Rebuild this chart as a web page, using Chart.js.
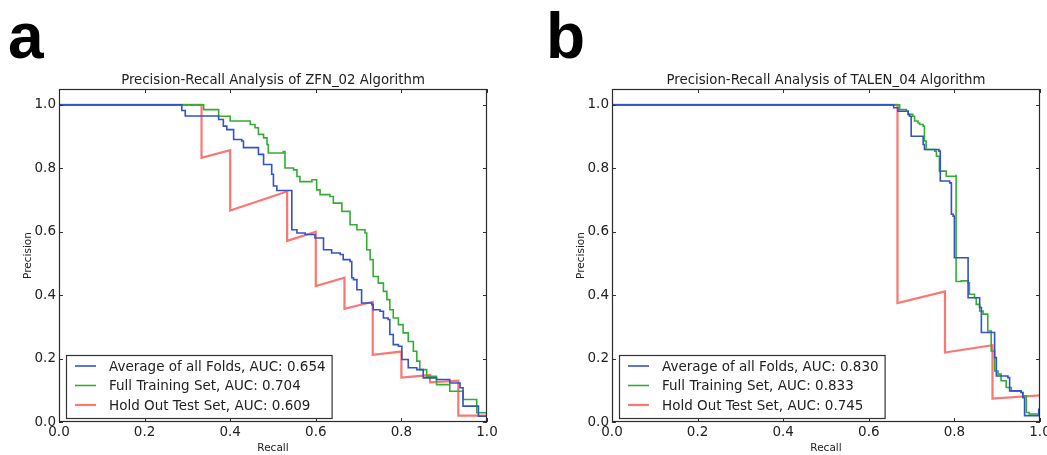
<!DOCTYPE html>
<html><head><meta charset="utf-8">
<script src="https://cdn.jsdelivr.net/npm/chart.js@4.4.0/dist/chart.umd.min.js"></script>
<style>
html,body{margin:0;padding:0;background:#fff;width:1047px;height:455px;overflow:hidden;position:relative;}
.panel{position:absolute;}
.letter{position:absolute;font-family:'Liberation Sans',Arial,sans-serif;font-weight:bold;font-size:64px;line-height:64px;color:#000;}
</style></head><body>
<div class="letter" style="left:8px;top:4px">a</div>
<div class="letter" style="left:546px;top:4px">b</div>
<div class="panel" style="left:0;top:60px;width:520px;height:395px"><canvas id="c1"></canvas></div>
<div class="panel" style="left:540px;top:60px;width:527px;height:395px"><canvas id="c2"></canvas></div>
<script>
// ---------- data: [recall, precision] ----------
const zfnAvg = [[0,1],[0.287,1],[0.287,0.982],[0.295,0.982],[0.295,0.965],[0.373,0.965],[0.373,0.954],[0.384,0.954],[0.384,0.933],[0.392,0.933],[0.392,0.922],[0.408,0.922],[0.408,0.891],[0.427,0.891],[0.427,0.886],[0.431,0.886],[0.431,0.865],[0.466,0.865],[0.466,0.844],[0.478,0.844],[0.478,0.812],[0.497,0.812],[0.497,0.781],[0.501,0.781],[0.501,0.744],[0.509,0.744],[0.509,0.730],[0.544,0.730],[0.544,0.606],[0.556,0.596],[0.575,0.591],[0.598,0.580],[0.614,0.580],[0.618,0.543],[0.637,0.533],[0.657,0.528],[0.664,0.512],[0.680,0.506],[0.684,0.455],[0.688,0.449],[0.696,0.417],[0.707,0.375],[0.731,0.370],[0.734,0.354],[0.750,0.349],[0.758,0.328],[0.769,0.323],[0.773,0.276],[0.781,0.244],[0.793,0.239],[0.801,0.197],[0.816,0.171],[0.836,0.165],[0.851,0.139],[0.882,0.134],[0.913,0.123],[0.937,0.108],[0.944,0.050],[0.976,0.050],[0.980,0.018],[0.999,0.018],[1.0,0.035]];
const zfnFull = [[0,1],[0.338,1],[0.338,0.985],[0.373,0.985],[0.373,0.964],[0.400,0.964],[0.400,0.949],[0.443,0.949],[0.447,0.938],[0.458,0.928],[0.466,0.907],[0.478,0.896],[0.486,0.875],[0.489,0.848],[0.524,0.853],[0.528,0.801],[0.548,0.795],[0.556,0.774],[0.563,0.758],[0.591,0.764],[0.602,0.732],[0.610,0.717],[0.633,0.711],[0.641,0.690],[0.661,0.664],[0.680,0.648],[0.680,0.622],[0.696,0.606],[0.715,0.596],[0.719,0.543],[0.723,0.543],[0.727,0.512],[0.734,0.459],[0.746,0.438],[0.758,0.412],[0.766,0.386],[0.773,0.354],[0.781,0.328],[0.793,0.307],[0.804,0.281],[0.816,0.254],[0.828,0.223],[0.836,0.192],[0.843,0.165],[0.859,0.144],[0.882,0.118],[0.913,0.097],[0.944,0.071],[0.976,0.029],[1.0,0.003]];
const zfnHold = [[0,1],[0.333,1],[0.333,0.833],[0.4,0.857],[0.4,0.667],[0.533,0.727],[0.533,0.571],[0.6,0.6],[0.6,0.429],[0.667,0.455],[0.667,0.357],[0.733,0.379],[0.733,0.212],[0.8,0.222],[0.8,0.14],[0.867,0.148],[0.867,0.125],[0.933,0.13],[0.933,0.02],[1.0,0.02]];

const talenAvg = [[0,1],[0.657,1],[0.658,0.991],[0.668,0.980],[0.688,0.980],[0.692,0.970],[0.695,0.964],[0.699,0.901],[0.723,0.901],[0.727,0.875],[0.730,0.859],[0.758,0.859],[0.764,0.854],[0.767,0.760],[0.789,0.754],[0.793,0.655],[0.797,0.649],[0.800,0.518],[0.828,0.518],[0.832,0.508],[0.832,0.392],[0.855,0.392],[0.859,0.361],[0.863,0.350],[0.863,0.282],[0.894,0.282],[0.894,0.203],[0.898,0.145],[0.925,0.140],[0.929,0.098],[0.956,0.093],[0.960,0.077],[0.964,0.020],[0.991,0.020],[0.997,0.040],[1.0,0.04]];
const talenFull = [[0,1],[0.672,1],[0.672,0.985],[0.688,0.980],[0.692,0.970],[0.703,0.964],[0.707,0.949],[0.715,0.943],[0.719,0.938],[0.727,0.933],[0.730,0.917],[0.730,0.886],[0.734,0.859],[0.754,0.854],[0.758,0.838],[0.764,0.838],[0.765,0.791],[0.781,0.791],[0.781,0.775],[0.804,0.780],[0.804,0.443],[0.816,0.445],[0.832,0.439],[0.835,0.403],[0.847,0.392],[0.851,0.371],[0.859,0.350],[0.867,0.340],[0.878,0.334],[0.878,0.287],[0.886,0.224],[0.894,0.203],[0.894,0.161],[0.902,0.151],[0.909,0.130],[0.921,0.109],[0.933,0.098],[0.956,0.093],[0.960,0.083],[0.968,0.030],[0.975,0.025],[1.0,0.02]];
const talenHold = [[0,1],[0.667,1],[0.667,0.375],[0.778,0.412],[0.778,0.219],[0.889,0.242],[0.889,0.074],[1.0,0.084]];

const zfnLabels = ['Average of all Folds, AUC: 0.654','Full Training Set, AUC: 0.704','Hold Out Test Set, AUC: 0.609'];
const talenLabels = ['Average of all Folds, AUC: 0.830','Full Training Set, AUC: 0.833','Hold Out Test Set, AUC: 0.745'];
const titles = ['Precision-Recall Analysis of ZFN_02 Algorithm','Precision-Recall Analysis of TALEN_04 Algorithm'];
const xTicks = [0,0.2,0.4,0.6,0.8,1.0];
const yTicks = [0,0.2,0.4,0.6,0.8,1.0];

const colors = ['#3452cc','#35ad35','#fb7772'];
const widths = [1.6,1.6,2.2];
const stepMode = ['before','before',false];
const FONT = "'DejaVu Sans', Verdana, sans-serif";

const framePlugin = {
  id:'frame',
  afterDatasetsDraw(chart){
    const {ctx, chartArea:a, scales:{x,y}} = chart;
    ctx.save();
    ctx.strokeStyle='#333'; ctx.lineWidth=1;
    ctx.beginPath();
    xTicks.forEach(v=>{const p=Math.round(x.getPixelForValue(v))+0.5;
      ctx.moveTo(p,a.bottom); ctx.lineTo(p,a.bottom-4); ctx.moveTo(p,a.top); ctx.lineTo(p,a.top+4);});
    yTicks.forEach(v=>{const p=Math.round(y.getPixelForValue(v))+0.5;
      ctx.moveTo(a.left,p); ctx.lineTo(a.left+4,p); ctx.moveTo(a.right,p); ctx.lineTo(a.right-4,p);});
    ctx.stroke();
    ctx.lineWidth=1.2; ctx.strokeStyle='#2a2a2a';
    ctx.strokeRect(a.left+0.5,a.top+0.5,a.right-a.left-1,a.bottom-a.top-1);
    // title
    ctx.fillStyle='#222'; ctx.font='13.3px '+FONT; ctx.textAlign='center'; ctx.textBaseline='alphabetic';
    ctx.fillText(chart.options.plugins.frame.title,(a.left+a.right)/2,a.top-5);
    // legend
    const ds = chart.data.datasets;
    ctx.font='13.5px '+FONT;
    let tw=0; ds.forEach(d=>{tw=Math.max(tw,ctx.measureText(d.label).width);});
    const bw = 43+tw+6, bh=63;
    const bx = a.left+7, by = a.bottom-4-bh;
    ctx.fillStyle='#fff'; ctx.fillRect(bx,by,bw,bh);
    ctx.strokeStyle='#333'; ctx.lineWidth=1.2; ctx.strokeRect(bx+0.5,by+0.5,bw,bh);
    ds.forEach((d,i)=>{
      const cy = by+11+i*19.5;
      ctx.strokeStyle=d.borderColor; ctx.lineWidth=d.borderWidth;
      ctx.beginPath(); ctx.moveTo(bx+9,cy); ctx.lineTo(bx+30,cy); ctx.stroke();
      ctx.fillStyle='#222'; ctx.textAlign='left'; ctx.textBaseline='middle';
      ctx.fillText(d.label,bx+43,cy+1);
    });
    ctx.restore();
  }
};

function make(id, series, labels, title, yWidth, yTitlePad, padRight){
  const datasets = series.map((s,i)=>({
    label: labels[i],
    data: s.map(p=>({x:p[0],y:p[1]})),
    showLine:true, pointRadius:0, borderColor:colors[i], borderWidth:widths[i],
    tension:0, fill:false, stepped:stepMode[i]
  }));
  return new Chart(document.getElementById(id),{
    type:'scatter',
    data:{datasets},
    options:{
      responsive:true, maintainAspectRatio:false, animation:false,
      layout:{padding:{top:29,right:padRight,left:0,bottom:0}},
      plugins:{legend:{display:false},tooltip:{enabled:false},frame:{title}},
      scales:{
        x:{type:'linear',min:0,max:1,
          afterBuildTicks:s=>{s.ticks=xTicks.map(v=>({value:v}));},
          ticks:{callback:v=>v.toFixed(1),font:{family:FONT,size:13.5},color:'#222',padding:2,maxRotation:0,autoSkip:false},
          grid:{display:false,drawTicks:false},border:{display:false},
          title:{display:true,text:'Recall',font:{family:FONT,size:10.5},color:'#222',padding:{top:0,bottom:0}},
          afterFit:s=>{s.height=33;}
        },
        y:{type:'linear',min:0,max:1.05,
          afterBuildTicks:s=>{s.ticks=yTicks.map(v=>({value:v}));},
          ticks:{callback:v=>v.toFixed(1),font:{family:FONT,size:13.5},color:'#222',padding:3,autoSkip:false},
          grid:{display:false,drawTicks:false},border:{display:false},
          title:{display:true,text:'Precision',font:{family:FONT,size:10.5},color:'#222',padding:{top:yTitlePad,bottom:0}},
          afterFit:s=>{s.width=yWidth;}
        }
      }
    },
    plugins:[framePlugin]
  });
}
make('c1',[zfnAvg,zfnFull,zfnHold],zfnLabels,titles[0],59,21.5,33);
make('c2',[talenAvg,talenFull,talenHold],talenLabels,titles[1],72,34.5,27);
</script>
</body></html>
